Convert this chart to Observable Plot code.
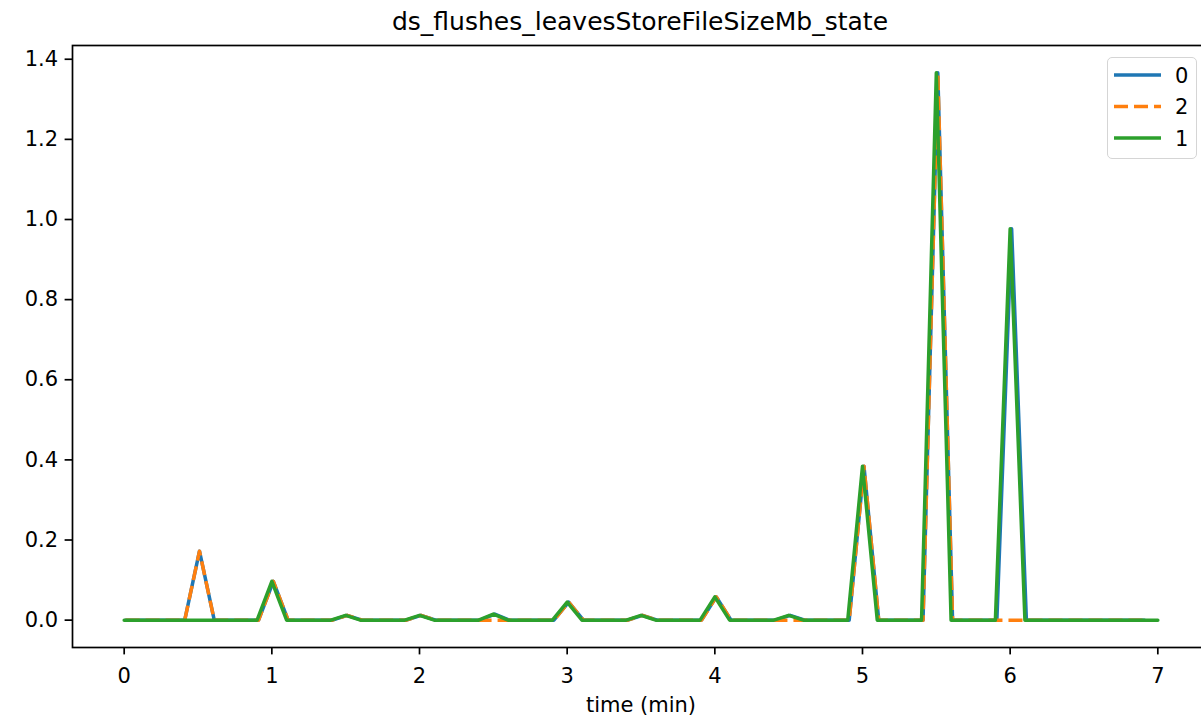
<!DOCTYPE html>
<html>
<head>
<meta charset="utf-8">
<script src="https://cdn.jsdelivr.net/npm/d3@7"></script>
<script src="https://cdn.jsdelivr.net/npm/@observablehq/plot@0.6"></script>
<style>
  html, body { margin: 0; padding: 0; background: #fff; overflow: hidden; }
  #wrap { position: relative; width: 1201px; height: 719px; overflow: hidden; font-family: "DejaVu Sans", sans-serif; }
  #title { width: 1280px; height: 44px; line-height: 44px; text-align: center; font-size: 25px; color: #000; white-space: nowrap; }
  #chart { width: 1210px; }
  #chart svg { display: block; max-width: none !important; }
  #legend { position: absolute; left: 1107px; top: 57px; width: 88px; height: 100px;
            border: 1.7px solid #d5d5d5; border-radius: 5px; background: rgba(255,255,255,0.8); }
</style>
</head>
<body>
<div id="wrap">
  <div id="title">ds_flushes_leavesStoreFileSizeMb_state</div>
  <div id="chart"></div>
  <div id="legend"></div>
</div>
<script>
// ---- data ----
const title = "ds_flushes_leavesStoreFileSizeMb_state";
const xLabel = "time (min)";
const xTicks = [0, 1, 2, 3, 4, 5, 6, 7];
const yTicks = [0.0, 0.2, 0.4, 0.6, 0.8, 1.0, 1.2, 1.4];

// sample times (min) for series "1"
const times1 = [
  0.0, 0.1, 0.2, 0.3, 0.4, 0.5, 0.6, 0.7, 0.8, 0.9,
  1.0, 1.1, 1.2, 1.3, 1.4, 1.5, 1.6, 1.7, 1.8, 1.9,
  2.0, 2.1, 2.2, 2.3, 2.4, 2.5, 2.6, 2.7, 2.8, 2.9,
  3.0, 3.1, 3.2, 3.3, 3.4, 3.5, 3.6, 3.7, 3.8, 3.9,
  4.0, 4.1, 4.2, 4.3, 4.4, 4.5, 4.6, 4.7, 4.8, 4.9,
  5.0, 5.1, 5.2, 5.3, 5.4, 5.5, 5.6, 5.7, 5.8, 5.9,
  6.0, 6.1, 6.2, 6.3, 6.4, 6.5, 6.6, 6.7, 6.8, 6.9,
  7.0
];
// sample times (min) for series "0" and "2"
const times02 = [
  0.01, 0.11, 0.21, 0.31, 0.41, 0.51, 0.61, 0.71, 0.81, 0.91,
  1.01, 1.11, 1.21, 1.31, 1.41, 1.51, 1.61, 1.71, 1.81, 1.91,
  2.01, 2.11, 2.21, 2.31, 2.41, 2.51, 2.61, 2.71, 2.81, 2.91,
  3.01, 3.11, 3.21, 3.31, 3.41, 3.51, 3.61, 3.71, 3.81, 3.91,
  4.01, 4.11, 4.21, 4.31, 4.41, 4.51, 4.61, 4.71, 4.81, 4.91,
  5.01, 5.11, 5.21, 5.31, 5.41, 5.51, 5.61, 5.71, 5.81, 5.91,
  6.01, 6.11, 6.21, 6.31, 6.41, 6.51, 6.61, 6.71, 6.81, 6.91
];

const values0 = [
  0, 0, 0, 0, 0, 0.172, 0, 0, 0, 0,
  0.097, 0, 0, 0, 0, 0.012, 0, 0, 0, 0,
  0.012, 0, 0, 0, 0, 0.015, 0, 0, 0, 0,
  0.045, 0, 0, 0, 0, 0.012, 0, 0, 0, 0,
  0.058, 0, 0, 0, 0, 0.012, 0, 0, 0, 0,
  0.384, 0, 0, 0, 0, 1.366, 0, 0, 0, 0,
  0.977, 0, 0, 0, 0, 0, 0, 0, 0, 0
];
const values2 = [
  0, 0, 0, 0, 0, 0.172, 0, 0, 0, 0,
  0.097, 0, 0, 0, 0, 0.012, 0, 0, 0, 0,
  0.012, 0, 0, 0, 0, 0, 0, 0, 0, 0,
  0.045, 0, 0, 0, 0, 0.012, 0, 0, 0, 0,
  0.058, 0, 0, 0, 0, 0, 0, 0, 0, 0,
  0.384, 0, 0, 0, 0, 1.366, 0, 0, 0, 0,
  0, 0, 0, 0, 0, 0, 0, 0, 0, 0
];
const values1 = [
  0, 0, 0, 0, 0, 0, 0, 0, 0, 0,
  0.097, 0, 0, 0, 0, 0.012, 0, 0, 0, 0,
  0.012, 0, 0, 0, 0, 0.015, 0, 0, 0, 0,
  0.045, 0, 0, 0, 0, 0.012, 0, 0, 0, 0,
  0.058, 0, 0, 0, 0, 0.012, 0, 0, 0, 0,
  0.384, 0, 0, 0, 0, 1.366, 0, 0, 0, 0,
  0.977, 0, 0, 0, 0, 0, 0, 0, 0, 0,
  0
];

const seriesNames  = ["0", "2", "1"];
const seriesColors = ["#1f77b4", "#ff7f0e", "#2ca02c"];
const seriesDashes = [null, "14,6", null];

// ---- build tables ----
const rows = (times, vals) => times.map((t, i) => ({t, v: vals[i]}));
const series = [
  rows(times02, values0),
  rows(times02, values2),
  rows(times1, values1)
];

const LW = 3.5;
const chart = Plot.plot({
  width: 1210,
  height: 675,
  marginLeft: 72,
  marginRight: 1,
  marginTop: 1,
  marginBottom: 72,
  style: {fontFamily: "DejaVu Sans, sans-serif", fontSize: "21px", color: "#000", background: "#fff", overflow: "visible", maxWidth: "none"},
  x: {domain: [-0.35, 7.35]},
  y: {domain: [-0.0683, 1.4343]},
  marks: [
    Plot.axisX({ticks: xTicks, tickSize: 7.4, tickPadding: 13, strokeWidth: 1.7, tickFormat: d => String(d),
                label: xLabel, labelAnchor: "center", labelArrow: "none", labelOffset: 64}),
    Plot.axisY({ticks: yTicks, tickSize: 7.4, tickPadding: 7, strokeWidth: 1.7, tickFormat: d3.format(".1f"), label: null}),
    ...series.map((data, k) => Plot.line(data, {
      x: "t", y: "v",
      stroke: seriesColors[k],
      strokeWidth: LW,
      strokeDasharray: seriesDashes[k] || undefined,
      strokeLinecap: seriesDashes[k] ? "butt" : "round",
      strokeLinejoin: "round"
    })),
    Plot.frame({stroke: "#000", strokeWidth: 1.7})
  ]
});
document.getElementById("chart").appendChild(chart);

// ---- legend ----
const leg = d3.select("#legend").append("svg").attr("width", 88).attr("height", 100);
seriesNames.forEach((name, i) => {
  const y = 17 + i * 31.5;
  leg.append("line")
    .attr("x1", 6).attr("x2", 53).attr("y1", y).attr("y2", y)
    .attr("stroke", seriesColors[i]).attr("stroke-width", LW)
    .attr("stroke-dasharray", seriesDashes[i] || null);
  leg.append("text")
    .attr("x", 67).attr("y", y).attr("dy", "0.36em")
    .attr("font-family", "DejaVu Sans, sans-serif").attr("font-size", 21)
    .text(name);
});
</script>
</body>
</html>
